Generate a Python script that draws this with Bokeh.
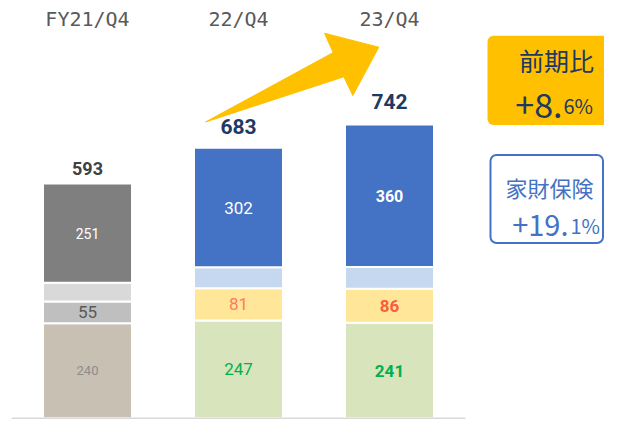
from bokeh.plotting import figure
from bokeh.models import Range1d, BoxAnnotation, Label, ColumnDataSource
from bokeh.core.properties import value
from bokeh.embed import file_html
from bokeh.resources import INLINE

# ---- data ----
categories = ["FY21/Q4", "22/Q4", "23/Q4"]
seg_bottom = [240, 247, 241]
seg_mid = [55, 81, 86]
seg_upper = [47, 53, 55]
seg_top = [251, 302, 360]
totals = [593, 683, 742]
box1_title = "前期比"
box1_main, box1_tail = "+8.", "6%"
box2_title = "家財保険"
box2_main, box2_tail = "+19.", "1%"

# ---- geometry of the canvas ----
W, H = 604, 419
PX_X = 151.0
C0 = 87.0          # canvas px of first bar centre
SY = 0.968         # vertical squeeze so that the whole fits
PX_Y = 0.409 * SY
BASE = 431 * SY + 0.5  # canvas px of the baseline
x_start = -C0 / PX_X
x_end = x_start + W / PX_X
y_end = BASE / PX_Y
y_start = y_end - H / PX_Y


def X(rx):
    return x_start + rx / PX_X


def Y(ry):
    return (BASE - (ry * SY + 0.5)) / PX_Y


p = figure(width=W, height=H, x_range=Range1d(x_start, x_end),
           y_range=Range1d(y_start, y_end), output_backend="svg",
           toolbar_location=None, x_axis_location=None, y_axis_location=None,
           min_border=0, outline_line_color=None)
p.grid.visible = False
p.background_fill_color = "white"
p.border_fill_color = "white"

xs = list(range(len(categories)))
lv0 = [0] * 3
lv1 = [a for a in seg_bottom]
lv2 = [a + b for a, b in zip(lv1, seg_mid)]
lv3 = [a + b for a, b in zip(lv2, seg_upper)]
lv4 = [a + b for a, b in zip(lv3, seg_top)]

levels = [
    (lv0, lv1, ["#C9C0B4", "#D8E4BC", "#D8E4BC"]),
    (lv1, lv2, ["#BFBFBF", "#FFE699", "#FFE699"]),
    (lv2, lv3, ["#D9D9D9", "#C6D8EF", "#C6D8EF"]),
    (lv3, lv4, ["#7F7F7F", "#4472C4", "#4472C4"]),
]
BW = 89 / PX_X
for bot, top, cols in levels:
    src = ColumnDataSource(dict(x=xs, bottom=bot, top=top, color=cols))
    p.vbar(x="x", bottom="bottom", top="top", width=BW, fill_color="color",
           line_color="white", line_width=2, source=src)

# axis baseline and category separators
p.segment(x0=[-0.5], y0=[0], x1=[2.5], y1=[0], line_color="#D9D9D9", line_width=1.5)
p.segment(x0=[-0.5, 0.5, 1.5, 2.5], y0=[0] * 4, x1=[-0.5, 0.5, 1.5, 2.5],
          y1=[y_start] * 4, line_color="#D9D9D9", line_width=1.5)

# segment labels
lab_x, lab_y, lab_t, lab_c, lab_s, lab_w = [], [], [], [], [], []
specs = [
    (lv0, seg_bottom, ["#8C8C8C", "#00B050", "#00B050"], ["13px", "17px", "17px"], ["normal", "normal", "bold"]),
    (lv1, seg_mid, ["#595959", "#FF7B5C", "#FF5B3B"], ["17px", "17px", "17px"], ["normal", "normal", "bold"]),
    (lv3, seg_top, ["#FFFFFF", "#FFFFFF", "#FFFFFF"], ["14px", "17px", "16px"], ["normal", "normal", "bold"]),
]
for bot, vals, cols, sizes, weights in specs:
    for i in xs:
        lab_x.append(i)
        lab_y.append(bot[i] + vals[i] / 2)
        lab_t.append(str(vals[i]))
        lab_c.append(cols[i])
        lab_s.append(sizes[i])
        lab_w.append(weights[i])
src_l = ColumnDataSource(dict(x=lab_x, y=lab_y, t=lab_t, c=lab_c, s=lab_s, w=lab_w))
p.text(x="x", y="y", text="t", text_color="c", text_font_size="s", text_font_style="w",
       text_align="center", text_baseline="middle", text_font=value("Roboto"), source=src_l)

# totals
src_t = ColumnDataSource(dict(x=xs, y=totals, t=[str(v) for v in totals],
                              c=["#404040", "#203864", "#203864"],
                              s=["18px", "21px", "21px"],
                              off=[-15, -21, -23]))
p.text(x="x", y="y", text="t", text_color="c", text_font_size="s", text_font_style="bold",
       text_align="center", text_baseline="middle", y_offset="off",
       text_font=value("Roboto"), source=src_t)

# category labels at top
p.text(x=xs, y=[Y(19)] * 3, text=categories, text_color="#595959", text_font_size="20px",
       text_align="center", text_baseline="middle", text_font=value("DejaVu Sans Mono"))

# arrow (decoration)
arrow_img = [(205, 125), (332.7, 53.3), (324, 33.3), (378.3, 47.7), (352.3, 97.7), (343.3, 78.3)]
p.patch(x=[X(a) for a, b in arrow_img], y=[Y(b) for a, b in arrow_img],
        fill_color="#FFC000", line_color="#FFC000", line_width=1)

# boxes
p.add_layout(BoxAnnotation(left=X(487), right=X(640), top=Y(36), bottom=Y(128),
                           fill_color="#FFC000", fill_alpha=1, line_color=None,
                           border_radius=6))
p.add_layout(BoxAnnotation(left=X(490), right=X(602.5), top=Y(159), bottom=Y(250),
                           fill_color="white", fill_alpha=1, line_color="#4472C4",
                           line_alpha=1, line_width=2, border_radius=6))

CJK = "Noto Sans CJK JP"
p.add_layout(Label(x=X(556), y=Y(61), text=box1_title, text_font=CJK, text_font_size="25px",
                   text_color="#203864", text_align="center", text_baseline="middle"))
p.add_layout(Label(x=X(562), y=Y(108), text=box1_main, text_font=CJK, text_font_size="34px",
                   text_color="#203864", text_align="right", text_baseline="alphabetic"))
p.add_layout(Label(x=X(563), y=Y(108), text=box1_tail, text_font=CJK, text_font_size="20px",
                   text_color="#203864", text_align="left", text_baseline="alphabetic"))
p.add_layout(Label(x=X(549), y=Y(192), text=box2_title, text_font=CJK, text_font_size="22px",
                   text_color="#4472C4", text_align="center", text_baseline="middle"))
p.add_layout(Label(x=X(568), y=Y(232), text=box2_main, text_font=CJK, text_font_size="29px",
                   text_color="#4472C4", text_align="right", text_baseline="alphabetic"))
p.add_layout(Label(x=X(570), y=Y(232), text=box2_tail, text_font=CJK, text_font_size="20px",
                   text_color="#4472C4", text_align="left", text_baseline="alphabetic"))

open("out.html", "w").write(file_html(p, INLINE))
